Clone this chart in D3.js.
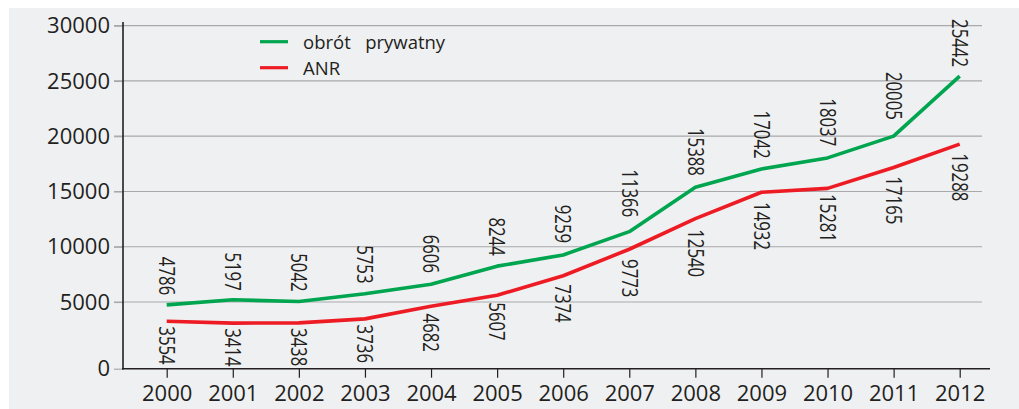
<!DOCTYPE html>
<html><head><meta charset="utf-8">
<script src="https://cdn.jsdelivr.net/npm/d3@7"></script>
<style>
html,body{margin:0;padding:0;background:#fff;}
svg{display:block;font-family:"Open Sans",sans-serif;}
</style></head>
<body>
<svg id="c" width="1019" height="409"></svg>
<script>
const years = ["2000","2001","2002","2003","2004","2005","2006","2007","2008","2009","2010","2011","2012"];
const privateTurnover = [4786,5197,5042,5753,6606,8244,9259,11366,15388,17042,18037,20005,25442];
const anr = [3554,3414,3438,3736,4682,5607,7374,9773,12540,14932,15281,17165,19288];
const yTicks = [0,5000,10000,15000,20000,25000,30000];
const seriesNames = ["obrót   prywatny","ANR"];
const colors = ["#00a54f","#ed1c24"];

const svg = d3.select("#c");
svg.append("rect").attr("x",9).attr("y",8).attr("width",1010).attr("height",401).attr("fill","#eff0f2");

const x = d3.scalePoint().domain(years).range([166.7,959.7]);
const y = d3.scaleLinear().domain([0,5000,30000]).range([368.7,302,25.7]);
const textCol = "#231f20";

// gridlines
svg.append("g").selectAll("line").data(yTicks.filter(d=>d>0)).join("line")
  .attr("x1",114).attr("x2",982).attr("y1",d=>y(d)).attr("y2",d=>y(d))
  .attr("stroke","#a9a9ab").attr("stroke-width",1.2);

// y axis
const yAxis = svg.append("g").attr("transform","translate(123,0)")
  .call(d3.axisLeft(y).tickValues(yTicks).tickSize(9).tickPadding(4).tickFormat(d3.format("d")));
yAxis.select(".domain").remove();
yAxis.selectAll(".tick line").attr("stroke","#a9a9ab").attr("stroke-width",1.2);
yAxis.selectAll("text").attr("font-size",22).attr("fill",textCol).attr("font-family","Open Sans");
svg.append("line").attr("x1",123).attr("x2",123).attr("y1",22).attr("y2",369.5).attr("stroke",textCol).attr("stroke-width",1.6);

// x axis
const xAxis = svg.append("g").attr("transform","translate(0,368.7)")
  .call(d3.axisBottom(x).tickSize(9).tickPadding(8));
xAxis.select(".domain").remove();
xAxis.selectAll(".tick line").attr("stroke",textCol).attr("stroke-width",1.2);
xAxis.selectAll("text").attr("font-size",22).attr("fill",textCol).attr("font-family","Open Sans");
svg.append("line").attr("x1",122).attr("x2",990).attr("y1",368.7).attr("y2",368.7).attr("stroke",textCol).attr("stroke-width",1.6);

const line = d3.line().x((d,i)=>x(years[i])).y(d=>y(d));
[privateTurnover, anr].forEach((s,k)=>{
  svg.append("path").datum(s).attr("d",line).attr("fill","none")
    .attr("stroke",colors[k]).attr("stroke-width",3.6).attr("stroke-linejoin","round");
});

// data labels (offset grows with local slope so text clears the line)
const step = x.step();
function labels(s, above){
  svg.append("g").selectAll("text").data(s).join("text")
    .attr("transform",(d,i)=>{
      let yy;
      if (above) {
        const sl = i < s.length-1 ? Math.max(0,(y(d)-y(s[i+1]))/step) : 0;
        yy = y(d) - (9 + sl*8);
      } else {
        const sl = i > 0 ? Math.max(0,(y(s[i-1])-y(d))/step) : 0;
        yy = y(d) + (5 + sl*12);
      }
      return `translate(${x(years[i])},${yy}) rotate(90) scale(0.8,1)`;
    })
    .attr("text-anchor", above ? "end" : "start")
    .attr("dominant-baseline","central")
    .attr("font-size",21).attr("fill",textCol)
    .text(d=>d);
}
labels(privateTurnover,true);
labels(anr,false);

// legend
const lg = svg.append("g");
seriesNames.forEach((n,k)=>{
  const yy = 41.7 + k*26;
  lg.append("line").attr("x1",260).attr("x2",288).attr("y1",yy).attr("y2",yy)
    .attr("stroke",colors[k]).attr("stroke-width",3.2);
  lg.append("text").attr("x",303).attr("y",yy).attr("dominant-baseline","central")
    .attr("font-size",18.5).attr("fill",textCol).style("white-space","pre").attr("xml:space","preserve").text(n);
});
</script>
</body></html>
